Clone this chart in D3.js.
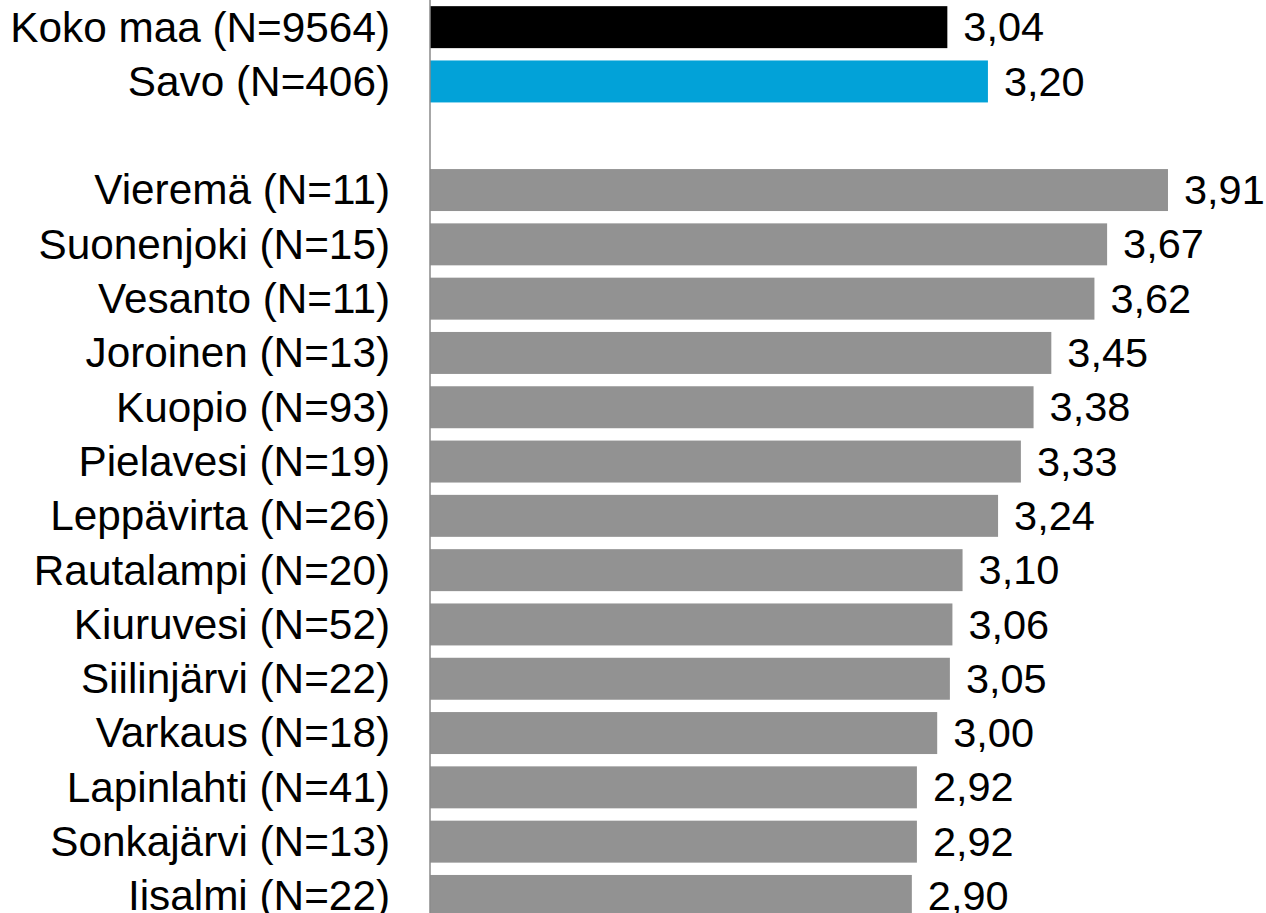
<!DOCTYPE html>
<html>
<head>
<meta charset="utf-8">
<script src="https://cdn.jsdelivr.net/npm/d3@7"></script>
<style>
  html, body { margin: 0; padding: 0; background: #fff; }
  svg { display: block; }
  text { font-family: "Liberation Sans", Arial, sans-serif; fill: #000; }
</style>
</head>
<body>
<script>
const categories = [
  "Koko maa (N=9564)", "Savo (N=406)", "",
  "Vieremä (N=11)", "Suonenjoki (N=15)", "Vesanto (N=11)", "Joroinen (N=13)",
  "Kuopio (N=93)", "Pielavesi (N=19)", "Leppävirta (N=26)", "Rautalampi (N=20)",
  "Kiuruvesi (N=52)", "Siilinjärvi (N=22)", "Varkaus (N=18)", "Lapinlahti (N=41)",
  "Sonkajärvi (N=13)", "Iisalmi (N=22)"
];
const values = [3.04, 3.20, null, 3.91, 3.67, 3.62, 3.45, 3.38, 3.33, 3.24, 3.10, 3.06, 3.05, 3.00, 2.92, 2.92, 2.90];
const kinds = ["total", "region", "blank", "m","m","m","m","m","m","m","m","m","m","m","m","m","m"];
const colors = { total: "#000000", region: "#02A2D8", m: "#929292" };

const W = 1266, H = 913;
const axisX = 430;
const data = categories.map((c, i) => ({ key: i, label: c, value: values[i], kind: kinds[i] }));

const svg = d3.select("body").append("svg").attr("width", W).attr("height", H);

const x = d3.scaleLinear().domain([1, 5]).range([axisX, axisX + 4 * 253.6]);
const y = d3.scaleBand().domain(data.map(d => d.key)).range([0, 923.1])
  .paddingInner(0.227).paddingOuter(0.1135);

const bars = data.filter(d => d.value != null);

svg.append("g").selectAll("rect").data(bars).join("rect")
  .attr("x", x(1))
  .attr("y", d => y(d.key))
  .attr("width", d => x(d.value) - x(1))
  .attr("height", y.bandwidth())
  .attr("fill", d => colors[d.kind]);

svg.append("line")
  .attr("x1", axisX).attr("x2", axisX)
  .attr("y1", 0).attr("y2", H)
  .attr("stroke", "#8a8a8a").attr("stroke-width", 1.5);

const fmt = v => d3.format(".2f")(v).replace(".", ",");

svg.append("g").selectAll("text").data(bars).join("text")
  .attr("x", d => x(d.value) + 16)
  .attr("y", d => y(d.key) + y.bandwidth() / 2)
  .attr("dy", "0.34em")
  .attr("font-size", 41.5)
  .text(d => fmt(d.value));

svg.append("g").selectAll("text").data(data.filter(d => d.label)).join("text")
  .attr("x", axisX - 40)
  .attr("y", d => y(d.key) + y.bandwidth() / 2)
  .attr("dy", "0.34em")
  .attr("text-anchor", "end")
  .attr("font-size", 42.3)
  .text(d => d.label);
</script>
</body>
</html>
